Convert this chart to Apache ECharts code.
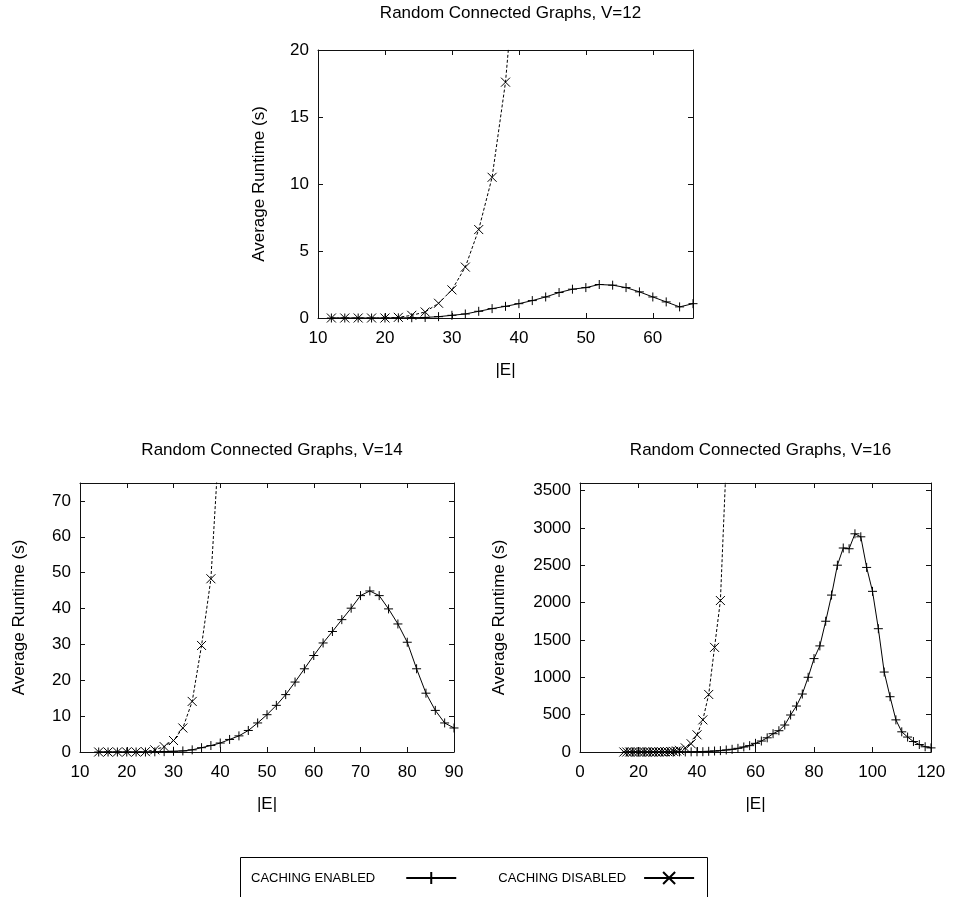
<!DOCTYPE html>
<html>
<head>
<meta charset="utf-8">
<script src="https://cdn.jsdelivr.net/npm/echarts@6/dist/echarts.min.js"></script>
<style>
  html, body { margin: 0; padding: 0; background: #fff; }
  #chart { width: 953px; height: 897px; }
</style>
</head>
<body>
<div id="chart"></div>
<script>
// V=12
const e12 = [12, 14, 16, 18, 20, 22, 24, 26, 28, 30, 32, 34, 36, 38, 40, 42, 44, 46, 48, 50, 52, 54, 56, 58, 60, 62, 64, 66]
const on12 = [0, 0, 0, 0, 0, 0.01, 0.02, 0.04, 0.1, 0.2, 0.3, 0.5, 0.7, 0.87, 1.07, 1.3, 1.57, 1.9, 2.15, 2.27, 2.5, 2.45, 2.27, 1.95, 1.57, 1.2, 0.83, 1.07]
const e12off = [12, 14, 16, 18, 20, 22, 24, 26, 28, 30, 32, 34, 36, 38, 40]
const off12 = [0, 0, 0, 0, 0, 0.05, 0.2, 0.45, 1.1, 2.1, 3.8, 6.6, 10.5, 17.6, 29]

// V=14
const e14 = [14, 16, 18, 20, 22, 24, 26, 28, 30, 32, 34, 36, 38, 40, 42, 44, 46, 48, 50, 52, 54, 56, 58, 60, 62, 64, 66, 68, 70, 72, 74, 76, 78, 80, 82, 84, 86, 88, 90]
const on14 = [0, 0, 0, 0, 0, 0, 0.05, 0.1, 0.2, 0.3, 0.6, 1.2, 1.8, 2.5, 3.5, 4.5, 6.0, 8.1, 10.4, 13.0, 16.0, 19.5, 23.2, 26.9, 30.4, 33.6, 36.9, 40.1, 43.6, 44.9, 43.6, 39.9, 35.7, 30.6, 23.2, 16.4, 11.6, 8.1, 6.7]
const e14off = [14, 16, 18, 20, 22, 24, 26, 28, 30, 32, 34, 36, 38, 40]
const off14 = [0, 0, 0, 0, 0, 0.1, 0.6, 1.5, 3.2, 6.7, 14.1, 29.7, 48.3, 92]

// V=16
const e16 = [16, 18, 20, 22, 24, 26, 28, 30, 32, 34, 36, 38, 40, 42, 44, 46, 48, 50, 52, 54, 56, 58, 60, 62, 64, 66, 68, 70, 72, 74, 76, 78, 80, 82, 84, 86, 88, 90, 92, 94, 96, 98, 100, 102, 104, 106, 108, 110, 112, 114, 116, 118, 120]
const on16 = [0, 0, 0, 0, 0, 0, 0, 0.5, 0.5, 1, 1, 2, 3, 4, 9, 13, 18, 27, 36, 49, 67, 85, 116, 147, 190, 245, 285, 361, 495, 615, 776, 1000, 1250, 1420, 1750, 2100, 2500, 2730, 2720, 2920, 2880, 2470, 2150, 1650, 1070, 740, 430, 270, 200, 140, 100, 70, 55]
const e16off = [15, 16, 17, 18, 19, 20, 21, 22, 23, 24, 25, 26, 27, 28, 29, 30, 31, 32, 33, 34, 36, 38, 40, 42, 44, 46, 48, 50]
const off16 = [0, 0, 0, 0, 0, 0, 0, 0, 0, 0, 0, 0, 1, 1, 2, 3, 5, 8, 14, 22, 55, 110, 230, 430, 770, 1400, 2027, 3900]

const nameOn = 'CACHING ENABLED'
const nameOff = 'CACHING DISABLED'
const plusPath = 'path://M5,0L5,10M0,5L10,5'
const crossPath = 'path://M0,0L10,10M10,0L0,10'
const font = "'Liberation Sans', Arial, sans-serif"

const pts = (xs, ys) => xs.map((x, i) => [x, ys[i]])

// 3 panels: grid box + axis ranges
const panels = [
  { title: 'Random Connected Graphs, V=12', titleTop: 0, left: 318, top: 50, width: 375, height: 268,
    x: [10, 66, 10], y: [0, 20, 5], yGap: 50, on: pts(e12, on12), off: pts(e12off, off12) },
  { title: 'Random Connected Graphs, V=14', titleTop: 437, left: 80, top: 483, width: 374, height: 269,
    x: [10, 90, 10], y: [0, 75, 10], yGap: 52, on: pts(e14, on14), off: pts(e14off, off14) },
  { title: 'Random Connected Graphs, V=16', titleTop: 437, left: 580, top: 483, width: 351, height: 269,
    x: [0, 120, 20], y: [0, 3600, 500], yGap: 72, on: pts(e16, on16), off: pts(e16off, off16) }
]

const lineCol = '#111'
const tickStyle = { show: true, inside: true, length: 5, lineStyle: { color: lineCol } }
const labelStyle = { color: '#000', fontSize: 17, fontFamily: font }

function axisPair(kind, p, gi) {
  const r = kind === 'x' ? p.x : p.y
  const base = {
    type: 'value', gridIndex: gi, min: r[0], max: r[1], interval: r[2],
    splitLine: { show: false },
    axisLine: { show: true, onZero: false, lineStyle: { color: lineCol, width: 1 } },
    axisTick: tickStyle
  }
  const main = Object.assign({}, base, {
    position: kind === 'x' ? 'bottom' : 'left',
    axisLabel: Object.assign({
      margin: kind === 'x' ? 12 : 9,
      showMaxLabel: r[1] % r[2] === 0,
      formatter: (v) => String(v)
    }, labelStyle),
    name: kind === 'x' ? '|E|' : 'Average Runtime (s)',
    nameLocation: 'middle',
    nameGap: kind === 'x' ? 44 : p.yGap,
    nameTextStyle: labelStyle
  })
  const mirror = Object.assign({}, base, {
    position: kind === 'x' ? 'top' : 'right',
    axisLabel: { show: false }
  })
  return [main, mirror]
}

const grid = [], xAxis = [], yAxis = [], series = [], title = []
panels.forEach((p, gi) => {
  grid.push({ left: p.left, top: p.top, width: p.width, height: p.height, containLabel: false })
  xAxis.push(...axisPair('x', p, gi))
  yAxis.push(...axisPair('y', p, gi))
  title.push({
    text: p.title, left: p.left + p.width / 2, top: p.titleTop, textAlign: 'center',
    textStyle: { color: '#000', fontSize: 17, fontWeight: 'normal', fontFamily: font }
  })
  series.push({
    name: nameOn, type: 'line', xAxisIndex: gi * 2, yAxisIndex: gi * 2,
    data: p.on, symbol: plusPath, symbolSize: 9, showAllSymbol: true, clip: true,
    itemStyle: { color: '#000', borderColor: '#000', borderWidth: 1 },
    lineStyle: { color: '#000', width: 1, type: 'solid' }
  })
  series.push({
    name: nameOff, type: 'line', xAxisIndex: gi * 2, yAxisIndex: gi * 2,
    data: p.off, symbol: crossPath, symbolSize: 9, showAllSymbol: true, clip: true,
    itemStyle: { color: '#000', borderColor: '#000', borderWidth: 1 },
    lineStyle: { color: '#000', width: 1, type: [3, 2] }
  })
})

const chart = echarts.init(document.getElementById('chart'))
chart.setOption({
  animation: false,
  backgroundColor: '#fff',
  title,
  grid, xAxis, yAxis, series,
  legend: {
    left: 246, top: 866, align: 'right', itemWidth: 50, itemHeight: 15, itemGap: 41,
    textStyle: { color: '#000', fontSize: 13, fontFamily: font },
    data: [
      { name: nameOn, lineStyle: { type: 'solid' }, textStyle: { padding: [0, 26, 0, 0] } },
      { name: nameOff, lineStyle: { type: 'solid' }, textStyle: { padding: [0, 13, 0, 0] } }
    ]
  },
  graphic: [{
    type: 'rect', left: 238, top: 855,
    shape: { width: 467, height: 60 },
    style: { fill: 'none', stroke: '#000', lineWidth: 1 }
  }]
})
</script>
</body>
</html>
